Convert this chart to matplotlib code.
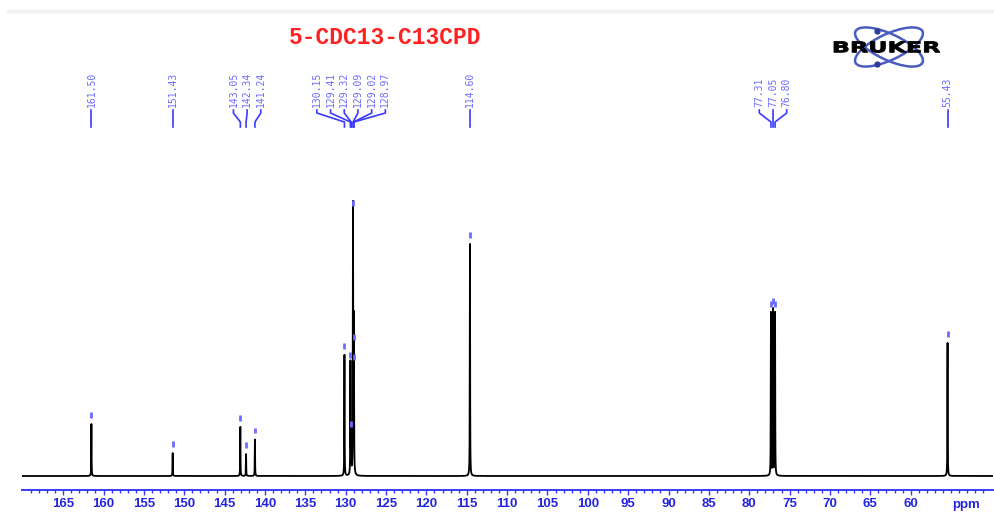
import matplotlib.pyplot as plt
import numpy as np
from matplotlib.patches import Ellipse, PathPatch
from matplotlib.textpath import TextPath
from matplotlib.font_manager import FontProperties
from matplotlib.transforms import Affine2D

# peak list (ppm) and relative intensities (tallest = 100)
shifts = [161.50, 151.43, 143.05, 142.34, 141.24,
          130.15, 129.41, 129.32, 129.09, 129.02, 128.97,
          114.60, 77.31, 77.05, 76.80, 55.43]
heights = [19.7, 8.7, 18.6, 8.3, 13.8,
           45.8, 42.4, 16.3, 100.0, 49.2, 41.7,
           87.9, 61.7, 62.9, 61.7, 50.4]
# how peak labels are grouped (indices into shifts)
label_groups = [[0], [1], [2, 3, 4], [5, 6, 7, 8, 9, 10], [11], [12, 13, 14], [15]]
tick_values = list(range(165, 59, -5))
title = "5-CDC13-C13CPD"

W, H = 994, 512
fig = plt.figure(figsize=(W / 100, H / 100), dpi=100)

# spectrum axes
ax = fig.add_axes([22 / W, 1 - 490 / H, 971 / W, 290 / H])
ppm = np.arange(4980, 17011) / 100.0
hw = 0.02
spec = np.zeros_like(ppm)
for s, h in zip(shifts, heights):
    spec += h / (1 + ((ppm - s) / hw) ** 2)
ax.plot(ppm, spec, color='black', lw=1.3)
ax.set_xlim(170.1, 49.8)
ax.set_ylim(-14 / 264 * 100, 276 / 264 * 100)

# peak pick markers
for s, h in zip(shifts, heights):
    ax.plot([s, s], [h + 2.4, h + 4.4], color='#6b6bff', lw=2, clip_on=False,
            solid_capstyle='butt')

blue = '#2424e0'
for side in ['top', 'left', 'right']:
    ax.spines[side].set_visible(False)
ax.spines['bottom'].set_color('#3a3aff')
ax.spines['bottom'].set_linewidth(1.4)
ax.set_yticks([])
ax.set_xticks(tick_values)
ax.set_xticks(np.arange(169, 50, -1), minor=True)
ax.tick_params(axis='x', which='major', direction='out', length=3.5, width=1,
               color='#3a3aff', labelcolor=blue, pad=2.5)
ax.tick_params(axis='x', which='minor', direction='out', length=1.8, width=1,
               color='#3a3aff')
for lab in ax.get_xticklabels():
    lab.set_fontfamily('Liberation Sans')
    lab.set_fontweight('bold')
    lab.set_fontsize(9.5)

# overlay in pixel coordinates
ov = fig.add_axes([0, 0, 1, 1])
ov.set_xlim(0, W)
ov.set_ylim(H, 0)
ov.axis('off')
ov.patch.set_alpha(0)

ov.plot([8, W], [11, 11], color='#f0f0f0', lw=2.5)
ov.text(966, 505, 'ppm', color=blue, fontsize=9.5, fontweight='bold',
        family='Liberation Sans', ha='center', va='center')

ov.text(385, 38, title, color='#ff2020', fontsize=16.5, fontweight='bold',
        family='Liberation Mono', ha='center', va='center')

# peak labels with leader lines
def to_px(s):
    return ax.transData.transform((s, 0))[0]

spacing = 13.7
for grp in label_groups:
    px = [to_px(shifts[i]) for i in grp]
    centre = np.mean(px)
    n = len(grp)
    for k, i in enumerate(grp):
        lx = centre + (k - (n - 1) / 2) * spacing
        ov.text(lx, 107, f"{shifts[i]:.2f}", rotation=90, ha='center', va='bottom',
                family='DejaVu Sans Mono', fontsize=7, color='#6b6bff')
        ov.plot([lx, lx, px[k], px[k]], [110, 113, 122, 127], color='#3a3aff', lw=1.2)

# Bruker logo
lc = '#4a5cc0'
ov.add_patch(Ellipse((889, 47), 74, 26, angle=25, fill=False, ec=lc, lw=1.8))
ov.add_patch(Ellipse((889, 47), 74, 26, angle=-25, fill=False, ec=lc, lw=1.8))
ov.plot([876.5, 876.5], [30.5, 63.5], 'o', color='#2d3c9a', ms=3.5)
tp = TextPath((0, 0), "BRUKER", size=20,
              prop=FontProperties(family='DejaVu Sans', weight='bold'))
bb = tp.get_extents()
sx = 106 / bb.width
sy = 11 / bb.height
tr = (Affine2D().translate(-bb.x0 - bb.width / 2, -bb.y0 - bb.height / 2)
      .scale(sx, -sy).translate(887, 47))
ov.add_patch(PathPatch(tr.transform_path(tp), fc='black', ec='black', lw=0.6))

fig.savefig('out.png', dpi=100)
